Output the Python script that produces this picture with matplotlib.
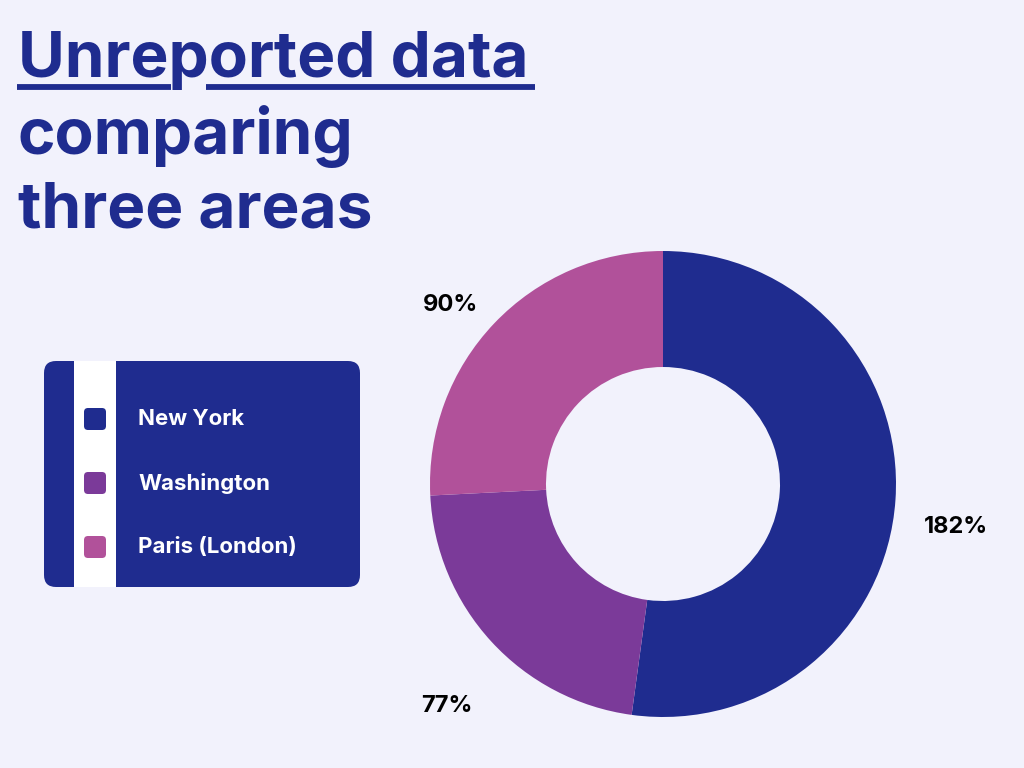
import matplotlib.pyplot as plt
import matplotlib.transforms as mtransforms
from matplotlib.patches import FancyBboxPatch, Rectangle

# chart data
areas = ["New York", "Washington", "Paris (London)"]
values = [182, 77, 90]
colors = ["#1F2C8F", "#7B3A99", "#B1519A"]
pct_labels = [f"{v}%" for v in values]

title_lines = ["Unreported data", "comparing", "three areas"]

BG = "#F2F2FC"
NAVY = "#1F2C8F"
FONT = ["Inter", "DejaVu Sans"]

plt.rcParams["font.family"] = FONT

fig = plt.figure(figsize=(10.24, 7.68), dpi=100, facecolor=BG)
ax = fig.add_axes([0, 0, 1, 1])
ax.set_facecolor(BG)

# donut (pixel coordinates, y up)
wedges, texts = ax.pie(
    values,
    labels=pct_labels,
    colors=colors,
    startangle=90,
    counterclock=False,
    center=(663, 768 - 484),
    radius=233,
    labeldistance=1.26,
    wedgeprops=dict(width=116, linewidth=0),
    textprops=dict(fontsize=17, fontweight="bold", color="black",
                   ha="center", va="center"),
    frame=True,
)
# labels sit a little lower than the wedge midpoints
shift = mtransforms.ScaledTranslation(0, -0.23, fig.dpi_scale_trans)
for t in texts:
    t.set_transform(t.get_transform() + shift)

ax.set_xlim(0, 1024)
ax.set_ylim(0, 768)
ax.set_aspect("equal")
ax.axis("off")

# title
title_y = [60, 137, 211]
title_kw = dict(fontsize=46, fontweight="bold", color=NAVY, ha="left", va="center")
for line, y in zip(title_lines, title_y):
    ax.text(18, 768 - y, line, **title_kw)

# underline, broken where the "p" descender passes
renderer = fig.canvas.get_renderer()
def text_width(s):
    t = ax.text(0, 0, s, **title_kw)
    w = t.get_window_extent(renderer).width
    t.remove()
    return w
gap_start = 18 + text_width("Unre") + 2
gap_end = 18 + text_width("Unrep") - 3
for x0, x1 in [(17, gap_start), (gap_end, 535)]:
    ax.plot([x0, x1], [768 - 87, 768 - 87], color=NAVY, linewidth=4.2,
            solid_capstyle="butt")

# legend box
box = FancyBboxPatch((44 + 12, 181 + 12), 316 - 24, 226 - 24,
                     boxstyle="round,pad=12", facecolor=NAVY, edgecolor="none")
ax.add_patch(box)
ax.add_patch(Rectangle((74, 181), 42, 226, facecolor="white", edgecolor="none"))

legend_y = [419, 483, 547]
for name, c, y in zip(areas, colors, legend_y):
    ax.add_patch(FancyBboxPatch((95 - 7, 768 - y - 7), 14, 14,
                                boxstyle="round,pad=4", facecolor=c,
                                edgecolor="none"))
    ax.text(138, 768 - y, name, fontsize=16, fontweight="bold", color="white",
            ha="left", va="center")

fig.savefig("out.png", dpi=100, facecolor=BG)
